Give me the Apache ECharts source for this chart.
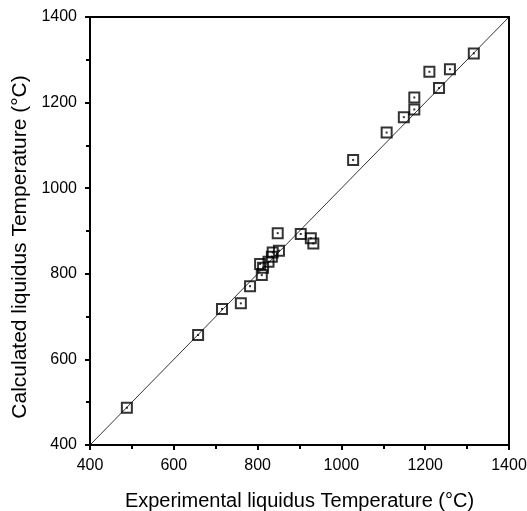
<!DOCTYPE html>
<html>
<head>
<meta charset="utf-8">
<script src="https://cdn.jsdelivr.net/npm/echarts@6/dist/echarts.min.js"></script>
<style>
  html, body { margin: 0; padding: 0; background: #fff; }
  #chart { width: 527px; height: 511px; }
</style>
</head>
<body>
<div id="chart"></div>
<script>
// experimental vs calculated liquidus temperature (°C)
const experimental = [488, 658, 715, 760, 782, 810, 806, 813, 826, 834, 836, 851, 848, 903, 927, 933,
  1028, 1108, 1149, 1174, 1174, 1210, 1233, 1259, 1316];
const calculated = [487, 657, 718, 731, 771, 797, 823, 814, 828, 840, 850, 854, 895, 893, 883, 871,
  1066, 1130, 1166, 1184, 1212, 1272, 1234, 1278, 1315];
const diagonal = [[400, 400], [1400, 1400]];

const points = experimental.map((x, i) => [x, calculated[i]]);

const chart = echarts.init(document.getElementById('chart'));
const font = 'Liberation Sans, Arial, sans-serif';

const baseAxis = {
  type: 'value',
  min: 400,
  max: 1400,
  interval: 200,
  splitLine: { show: false },
  axisLine: { show: true, lineStyle: { color: '#000', width: 2 } },
  axisTick: { show: true, length: 5, lineStyle: { color: '#000', width: 2 } },
  minorTick: { show: true, splitNumber: 2, length: 4, lineStyle: { color: '#000', width: 2 } },
  axisLabel: { color: '#000', fontSize: 16, fontFamily: font, margin: 13, formatter: (v) => String(v) },
  nameLocation: 'middle',
};

const frameAxis = {
  type: 'value',
  min: 400,
  max: 1400,
  interval: 200,
  splitLine: { show: false },
  axisLine: { show: true, lineStyle: { color: '#000', width: 2 } },
  axisTick: { show: false },
  axisLabel: { show: false },
};

chart.setOption({
  animation: false,
  grid: { left: 90, right: 18, top: 17, bottom: 66, outerBoundsMode: 'none' },
  xAxis: [
    {
      ...baseAxis,
      name: 'Experimental liquidus Temperature (°C)',
      nameGap: 46,
      nameTextStyle: { color: '#000', fontSize: 20, fontFamily: font },
    },
    { ...frameAxis, position: 'top' },
  ],
  yAxis: [
    {
      ...baseAxis,
      name: 'Calculated liquidus Temperature (°C)',
      nameGap: 55,
      nameTextStyle: { color: '#000', fontSize: 21, fontFamily: font, padding: [0, 32, 0, 0] },
    },
    { ...frameAxis, position: 'right' },
  ],
  series: [
    {
      type: 'line',
      data: diagonal,
      symbol: 'none',
      lineStyle: { color: '#000', width: 0.8 },
      silent: true,
    },
    {
      type: 'scatter',
      data: points,
      symbol: 'rect',
      symbolSize: 10,
      itemStyle: { color: 'rgba(255,255,255,0)', borderColor: '#000', borderWidth: 2 },
    },
    {
      type: 'scatter',
      data: points,
      symbol: 'rect',
      symbolSize: 2,
      itemStyle: { color: '#000' },
      silent: true,
    },
  ],
});

window.addEventListener('resize', () => chart.resize());
</script>
</body>
</html>
